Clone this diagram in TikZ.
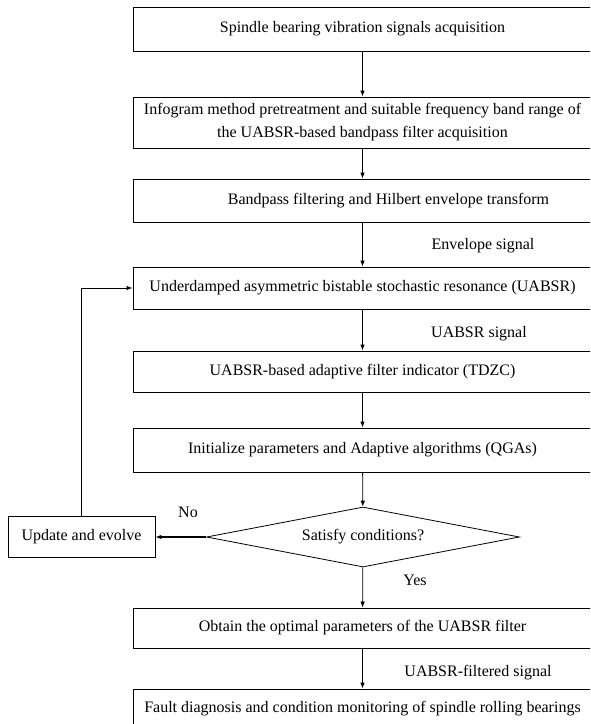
\documentclass[tikz,border=0pt]{standalone}
\usepackage{fontspec}
\setmainfont{Liberation Serif}
\usetikzlibrary{shapes.geometric,arrows.meta}
\tikzset{
  box/.style={draw,line width=0.8pt,minimum width=459pt,inner sep=0pt,align=center},
  cond/.style={draw,diamond,line width=0.8pt,aspect=5.2,inner sep=0pt,
    minimum width=313pt,minimum height=60pt},
  lbl/.style={inner sep=0pt}
}
\begin{document}
\begin{tikzpicture}[x=1pt,y=-1pt,font=\fontsize{16}{23}\selectfont,
    >={Latex[length=6pt,width=4.5pt]}]
  \useasboundingbox (0,0) rectangle (590,724);
  \clip (0,0) rectangle (590,724);
  \draw
    (362.5,29) node[box,minimum height=44pt] (1){Spindle bearing vibration signals acquisition}
    (362.5,122.5) node[box,minimum height=51pt] (2){Infogram method pretreatment and suitable frequency band range of\\the UABSR-based bandpass filter acquisition}
    (362.5,200.5) node[box,minimum height=43pt] (3){\hspace*{52pt}Bandpass filtering and Hilbert envelope transform}
    (362.5,288) node[box,minimum height=42pt] (4){Underdamped asymmetric bistable stochastic resonance (UABSR)}
    (362.5,371.5) node[box,minimum height=41pt] (5){UABSR-based adaptive filter indicator (TDZC)}
    (362.5,450) node[box,minimum height=44pt] (6){Initialize parameters and Adaptive algorithms (QGAs)}
    (363,537) node[cond] (c){Satisfy conditions?}
    (81.5,537) node[draw,line width=0.8pt,minimum width=147pt,minimum height=41pt,inner sep=0pt] (u){Update and evolve}
    (362.5,628) node[box,minimum height=40pt] (7){Obtain the optimal parameters of the UABSR filter}
    (362.5,709) node[box,minimum height=40pt] (8){Fault diagnosis and condition monitoring of spindle rolling bearings};
  \draw
    (483,246) node[lbl] (l1){Envelope signal}
    (479,334) node[lbl] (l2){UABSR signal}
    (188,512) node[lbl] (l3){No}
    (415,580) node[lbl] (l4){Yes}
    (478,673) node[lbl] (l5){UABSR-filtered signal};
  \begin{scope}[->,line width=0.8pt]
    \draw (1) to (2);
    \draw (2) to (3);
    \draw (3) to (4);
    \draw[line width=1.1pt] (4) to (5);
    \draw (5) to (6);
    \draw (6) to (c);
    \draw[line width=1.1pt] (c) to (u);
    \draw (c) to (7);
    \draw (7) to (8);
    \draw[line width=1pt] (u) |- (4);
  \end{scope}
\end{tikzpicture}
\end{document}
